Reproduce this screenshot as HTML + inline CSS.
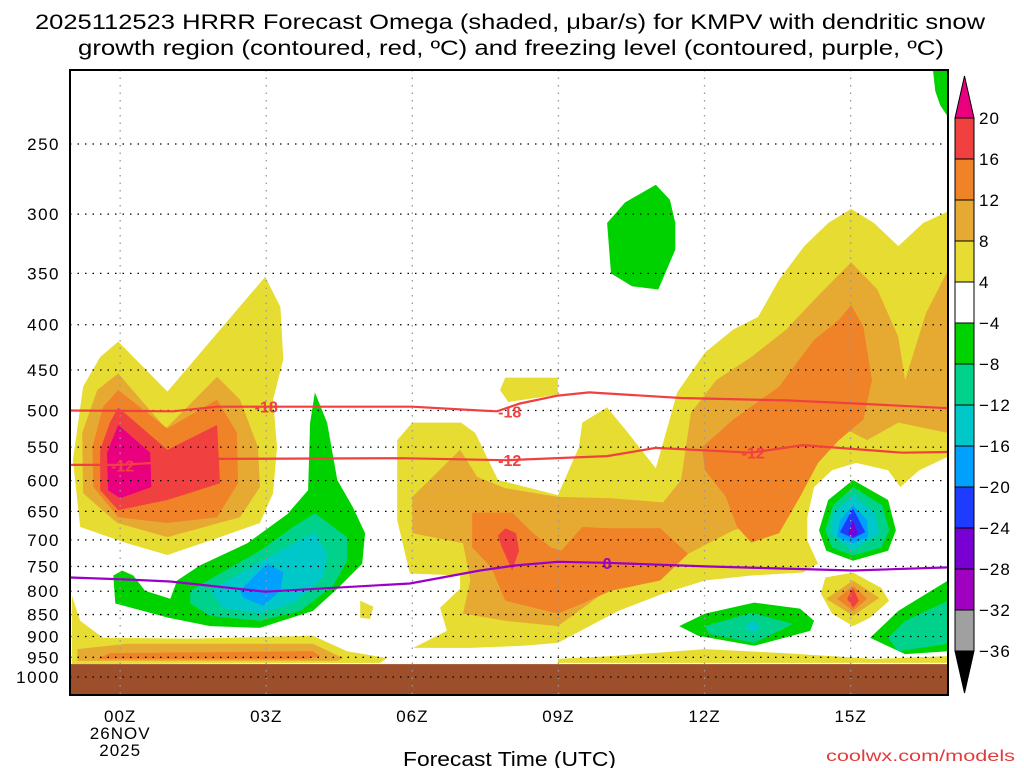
<!DOCTYPE html>
<html><head><meta charset="utf-8"><title>HRRR Omega KMPV</title>
<style>
html,body{margin:0;padding:0;background:#fff;}
svg{display:block;font-family:"Liberation Sans",sans-serif;}
</style></head>
<body>
<svg id="chart" width="1024" height="768" viewBox="0 0 1024 768" xmlns="http://www.w3.org/2000/svg">
<text x="35" y="29" font-size="21" textLength="950" lengthAdjust="spacingAndGlyphs">2025112523 HRRR Forecast Omega (shaded, μbar/s) for KMPV with dendritic snow</text>
<text x="78" y="55" font-size="21" textLength="866" lengthAdjust="spacingAndGlyphs">growth region (contoured, red, ºC) and freezing level (contoured, purple, ºC)</text>
<g id="fills"></g>
<g id="ground"></g>
<g id="grid"></g>
<g id="lines"></g>
<g id="axes"></g>
<g id="cbar"></g>
<text x="403" y="766" font-size="20" textLength="213" lengthAdjust="spacingAndGlyphs">Forecast Time (UTC)</text>
<text x="826" y="761" font-size="16" textLength="189" lengthAdjust="spacingAndGlyphs" fill="#e03c3c">coolwx.com/models</text>
</svg>
<script>
// ---- data (hour since 00Z, pressure hPa) ----
const xTickHours = [0,3,6,9,12,15];
const xTickLabels = ["00Z","03Z","06Z","09Z","12Z","15Z"];
const yTickLevels = [250,300,350,400,450,500,550,600,650,700,750,800,850,900,950,1000];
const surfacePressure = 967;
const cbarLabels = ["20","16","12","8","4","−4","−8","−12","−16","−20","−24","−28","−32","−36"];
const cbarColors = ["#f04040","#f08228","#e6aa32","#e6dc32","#ffffff","#00d200","#00d28c","#00c8c8","#00a0ff","#1e3cff","#7800d2","#a000c0","#a0a0a0"];

const yellowAreas = [
 [[-0.04,418],[0.97,476],[2.98,353],[3.29,382],[3.35,438],[3.14,486],[3.22,550],[3.14,620],[2.87,670],[2.05,695],[0.97,728],[0.14,706],[-0.82,677],[-0.97,569],[-0.76,470],[-0.41,435]],
 [[5.69,540],[6.0,516],[7.0,516],[7.29,530],[7.76,599],[8.99,623],[9.42,550],[9.49,516],[10.0,496],[10.43,530],[11.0,581],[11.15,544],[11.44,477],[12.01,430],[12.59,405],[13.1,392],[13.53,356],[14.05,326],[14.54,307],[15.01,296],[15.48,307],[15.98,326],[16.49,307],[17.0,298],[17.0,564],[16.41,584],[16.02,610],[15.77,584],[15.11,573],[14.62,584],[14.25,610],[14.11,660],[14.11,701],[14.33,745],[14.02,762],[12.96,768],[12.01,778],[11.15,805],[10.23,842],[8.99,915],[8.28,922],[7.19,927],[6.02,927],[6.71,887],[6.57,835],[6.98,795],[6.98,768],[5.95,764],[5.69,665]],
 [[4.93,820],[5.2,833],[5.13,860],[4.93,857]],
 [[-0.99,809],[-0.82,864],[-0.35,903],[1.5,905],[3.96,898],[4.66,935],[5.48,952],[5.34,964],[-0.99,967]],
 [[7.91,459],[8.99,459],[8.99,480],[8.52,484],[7.97,489],[7.8,474]],
 [[15.05,762],[15.63,793],[15.79,820],[15.4,857],[15.05,876],[14.62,848],[14.39,805],[14.48,772]],
 [[8.99,954],[10.08,947],[12.01,930],[13.68,940],[15.48,954],[17,947],[17,964],[8.99,964]]
];
const lightOrangeAreas = [
 [[-0.04,454],[0.94,524],[1.99,458],[2.46,486],[2.83,550],[2.87,610],[2.46,660],[0.97,695],[-0.06,670],[-0.76,620],[-0.78,530],[-0.47,474]],
 [[6.0,626],[6.98,554],[7.33,594],[7.91,612],[8.99,626],[10.08,628],[11.15,635],[11.52,599],[11.72,503],[12.24,462],[12.96,435],[13.68,405],[14.25,375],[15.01,340],[15.55,365],[15.98,413],[16.12,462],[16.55,388],[17.0,347],[17.0,530],[15.98,516],[15.34,540],[14.82,522],[14.39,550],[14.04,599],[13.68,660],[12.59,683],[11.66,726],[10.43,764],[9.63,826],[8.99,876],[7.91,864],[7.04,848],[7.19,778],[7.04,706],[6.0,688]],
 [[-0.88,930],[0.14,917],[3.96,917],[4.58,952],[4.46,959],[-0.88,959]],
 [[15.05,778],[15.59,814],[15.05,853],[14.5,816]]
];
const orangeAreas = [
 [[-0.04,474],[0.97,524],[1.99,486],[2.4,530],[2.42,604],[1.99,660],[0.97,670],[-0.04,660],[-0.55,610],[-0.57,550],[-0.35,495]],
 [[7.23,652],[8.05,652],[8.48,688],[8.85,714],[9.06,720],[9.49,677],[10.0,679],[11.09,679],[11.66,726],[11.09,778],[10.08,799],[9.49,826],[8.99,848],[7.91,820],[7.62,752],[7.23,714]],
 [[11.95,550],[12.59,512],[13.53,470],[14.25,416],[14.76,395],[15.01,380],[15.26,402],[15.44,462],[15.26,512],[14.76,540],[14.33,573],[13.96,626],[13.53,688],[12.96,705],[12.67,677],[12.44,626],[12.01,584]],
 [[-0.47,954],[-0.21,940],[3.96,935],[4.11,947],[3.84,954]],
 [[15.05,789],[15.34,816],[15.05,842],[14.72,816]]
];
const redAreas = [
 [[-0.04,496],[0.97,554],[1.99,519],[2.05,604],[0.97,631],[-0.04,648],[-0.41,615],[-0.41,554],[-0.21,516]],
 [[7.91,679],[8.13,688],[8.19,720],[8.05,758],[7.84,714],[7.76,692]],
 [[15.05,793],[15.17,820],[15.05,835],[14.93,816]]
];
const magentaAreas = [
 [[-0.04,519],[0.62,558],[0.64,610],[0,628],[-0.25,615],[-0.27,558]]
];
const greenAreas = [
 [[4.0,477],[4.25,516],[4.46,599],[4.78,643],[5.03,688],[4.97,745],[4.46,795],[3.96,842],[2.87,880],[1.85,876],[0.99,857],[0.47,842],[-0.1,826],[-0.14,768],[0.04,758],[0.27,768],[0.51,799],[1.03,816],[1.17,778],[1.64,748],[2.61,706],[3.43,655],[3.86,615],[3.9,516]],
 [[11.0,278],[11.29,289],[11.4,307],[11.4,329],[11.05,365],[10.51,362],[10.08,350],[10.0,307],[10.37,291]],
 [[15.05,599],[15.77,631],[15.93,683],[15.77,720],[15.05,739],[14.5,720],[14.35,683],[14.54,631]],
 [[11.48,876],[12.01,848],[13.02,824],[13.96,837],[14.25,864],[14.17,887],[13.02,922],[11.87,898]],
 [[15.4,903],[15.98,842],[17.0,778],[17.0,935],[16.12,942]],
 [[16.69,206],[17,206],[17,233],[16.84,226],[16.74,218]]
];
const seaGreenAreas = [
 [[4.0,653],[4.66,695],[4.66,739],[4.37,789],[3.7,842],[2.87,864],[1.85,853],[1.44,826],[1.44,799],[2.05,764],[2.87,720],[3.55,677]],
 [[15.05,610],[15.65,640],[15.79,683],[15.63,714],[15.05,729],[14.62,714],[14.48,683],[14.64,640]],
 [[12.01,876],[12.96,846],[13.82,871],[13.02,915],[12.09,894]],
 [[15.77,903],[16.12,864],[17,820],[17,917],[15.98,935]]
];
const cyanAreas = [
 [[4.0,686],[4.25,726],[4.17,772],[3.55,826],[2.87,848],[2.11,835],[1.85,799],[2.32,772],[3.02,733]],
 [[15.05,623],[15.5,652],[15.59,688],[15.05,720],[14.58,688],[14.64,652]],
 [[12.87,871],[13.02,864],[13.16,880],[13.02,891],[12.85,882]]
];
const blueAreas = [
 [[3.02,745],[3.35,762],[3.29,799],[2.94,831],[2.53,814],[2.46,799],[2.73,772]],
 [[15.05,640],[15.34,665],[15.36,695],[15.05,706],[14.72,695],[14.78,665]]
];
const deepBlueAreas = [
 [[15.05,645],[15.3,686],[15.05,697],[14.78,686]]
];
const purpleAreas = [
 [[15.05,665],[15.15,688],[15.05,695],[14.95,688]]
];
const isoMinus18 = [[-1.03,500],[1.09,501],[1.99,495],[3.7,495],[6.0,495],[7.39,500],[7.74,501],[8.21,491],[8.99,481],[9.63,477],[11.52,484],[13.68,487],[15.11,491],[17.0,497]];
const isoMinus12 = [[-1.03,576],[0,576],[1.99,567],[5.75,566],[7.91,569],[10.0,563],[11.0,551],[12.96,558],[14.02,547],[16.06,558],[17,557]];
const isoZero = [[-1.03,772],[0.14,776],[1.03,780],[2.98,801],[5.95,784],[7.39,758],[8.13,748],[8.99,741],[10.0,743],[12.01,750],[15.05,758],[17,752]];
const contourLabels = [["-18",3.0,495,"#f04040"],["-18",8.0,501,"#f04040"],["-12",0.05,577,"#f04040"],["-12",8.0,569,"#f04040"],["-12",13.0,558,"#f04040"],["0",10.0,743,"#9a00c8"]];

// ---- axes ----
const X0=70, X1=948, Y0=70, Y1=695;
const HMIN=-1.03, HMAX=17.0;
function xs(h){ return X0 + (h-HMIN)/(HMAX-HMIN)*(X1-X0); }
function ys(p){ return 144 + 384.5*Math.log(p/250); }
const NS="http://www.w3.org/2000/svg";
function mk(tag, attrs, parent){ const e=document.createElementNS(NS,tag); for(const k in attrs) e.setAttribute(k,attrs[k]); parent.appendChild(e); return e; }
const fills=document.getElementById('fills');
const clip=mk('clipPath',{id:'plotclip'},document.getElementById('chart'));
mk('rect',{x:X0,y:Y0,width:X1-X0,height:Y1-Y0},clip);
fills.setAttribute('clip-path','url(#plotclip)');
function pts(arr){ return arr.map(q=>xs(q[0]).toFixed(1)+','+ys(q[1]).toFixed(1)).join(' '); }
function drawLayer(list,color,name){
  list.forEach(poly=>{
    const el=mk('polygon',{points:pts(poly),fill:color},fills);
    
    
  });
}
drawLayer(yellowAreas,"#e6dc32","omega-4-8-area");
drawLayer(lightOrangeAreas,"#e6aa32","omega-8-12-area");
drawLayer(orangeAreas,"#f08228","omega-12-16-area");
drawLayer(redAreas,"#f04040","omega-16-20-area");
drawLayer(magentaAreas,"#e8007f","omega-over-20-area");
drawLayer(greenAreas,"#00d200","omega-neg4-neg8-area");
drawLayer(seaGreenAreas,"#00d28c","omega-neg8-neg12-area");
drawLayer(cyanAreas,"#00c8c8","omega-neg12-neg16-area");
drawLayer(blueAreas,"#00a0ff","omega-neg16-neg20-area");
drawLayer(deepBlueAreas,"#1e3cff","omega-neg20-neg24-area");
drawLayer(purpleAreas,"#7800d2","omega-neg24-neg28-area");

// ground
const g=document.getElementById('ground');
const gr=mk('rect',{x:X0,y:ys(surfacePressure),width:X1-X0,height:Y1-ys(surfacePressure),fill:"#9c4f2a"},g);



// grid
const grid=document.getElementById('grid');
yTickLevels.forEach(p=>{
  const l=mk('line',{x1:X0,x2:X1,y1:ys(p),y2:ys(p),stroke:"#000","stroke-width":1.3,"stroke-dasharray":"1.5 6"},grid);
  
  
});
xTickHours.forEach(h=>{
  const l=mk('line',{x1:xs(h),x2:xs(h),y1:Y0,y2:Y1,stroke:"#999","stroke-width":1.3,"stroke-dasharray":"1.5 6"},grid);
  
  
});

// contour lines
const lines=document.getElementById('lines');
function drawLine(arr,color,name){
  const el=mk('polyline',{points:pts(arr),fill:"none",stroke:color,"stroke-width":2.2},lines);
  
  
}
drawLine(isoMinus18,"#f04040","isotherm-minus18");
drawLine(isoMinus12,"#f04040","isotherm-minus12");
drawLine(isoZero,"#9a00c8","freezing-level-line");
contourLabels.forEach(c=>{
  const t=mk('text',{x:xs(c[1]),y:ys(c[2])+6,"font-size":16,"font-weight":"bold","text-anchor":"middle",fill:c[3]},lines);
  t.textContent=c[0];
  
  
});

// axes
const ax=document.getElementById('axes');
const fr=mk('rect',{x:X0,y:Y0,width:X1-X0,height:Y1-Y0,fill:"none",stroke:"#000","stroke-width":2},ax);


yTickLevels.forEach(p=>{
  const t=mk('text',{x:60,y:ys(p)+6,"font-size":17,"text-anchor":"end","letter-spacing":"1.5"},ax);
  t.textContent=p;
  
  
});
xTickHours.forEach((h,i)=>{
  const t=mk('text',{x:xs(h),y:722,"font-size":17,"text-anchor":"middle","letter-spacing":"1"},ax);
  t.textContent=xTickLabels[i];
  
  
});
[["26NOV",739],["2025",756]].forEach(d=>{
  const t=mk('text',{x:xs(0),y:d[1],"font-size":17,"text-anchor":"middle","letter-spacing":"1"},ax);
  t.textContent=d[0];
  
  
});

// colorbar
const cb=document.getElementById('cbar');
const CBX=955, CBW=19, CBT=118, CBS=41;
const tri1=mk('polygon',{points:`${CBX},${CBT} ${CBX+CBW},${CBT} ${CBX+CBW/2},76`,fill:"#e8007f",stroke:"#000","stroke-width":1},cb);


cbarColors.forEach((c,i)=>{
  const r=mk('rect',{x:CBX,y:CBT+i*CBS,width:CBW,height:CBS,fill:c,stroke:"#000","stroke-width":1},cb);
  
  
});
const bot=CBT+cbarColors.length*CBS;
const tri2=mk('polygon',{points:`${CBX},${bot} ${CBX+CBW},${bot} ${CBX+CBW/2},${bot+42}`,fill:"#000",stroke:"#000","stroke-width":1},cb);


cbarLabels.forEach((s,i)=>{
  const t=mk('text',{x:979,y:CBT+i*CBS+6,"font-size":17,"letter-spacing":"1"},cb);
  t.textContent=s;
  
  
});
</script>
</body></html>
